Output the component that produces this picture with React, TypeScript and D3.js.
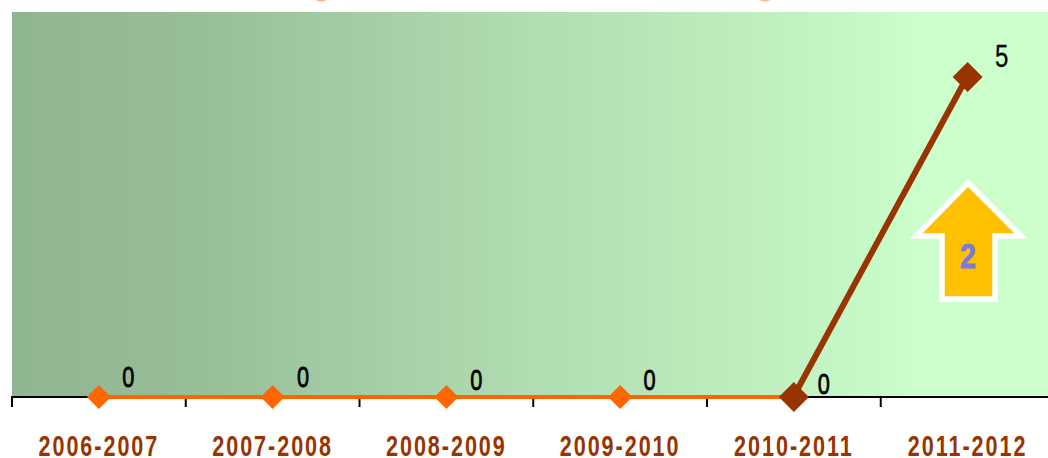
import React from "react";
import * as d3 from "d3";

const categories = ["2006-2007", "2007-2008", "2008-2009", "2009-2010", "2010-2011", "2011-2012"];
const values = [0, 0, 0, 0, 0, 5];
const labelOffsets = [[29.5, -9], [30.5, -9], [30, -6], [29.5, -6], [30, -2], [34, -9]];
const gradientStops = [
  [0, "#90B591"], [0.18, "#98BE98"], [0.35, "#A5CEA6"], [0.5, "#B1DDB1"],
  [0.65, "#BAE9BA"], [0.8, "#C5F6C5"], [0.88, "#CCFFCC"], [1, "#CCFFCC"],
] as const;

const W = 1048, H = 458;
const left = 12, right = 1048, top = 12, base = 396;
const x = d3.scaleBand<string>().domain(categories).range([left, 1054.5]);
const y = d3.scaleLinear().domain([0, 5]).range([base, 76]);
const px = (i: number) => (x(categories[i]) as number) + x.bandwidth() / 2;
const orange = "#FF6600", brown = "#993300";
const font = "'Liberation Sans', sans-serif";
const line = d3.line<number>().x((_, i) => px(i)).y((d) => y(d));
const diamond = (cx: number, cy: number, r: number) =>
  `M${cx},${cy - r}L${cx + r},${cy}L${cx},${cy + r}L${cx - r},${cy}Z`;
const arrowPts = [[968, 183], [916, 236], [942, 236], [942, 299], [995, 299], [995, 236], [1021, 236]];

export default function App() {
  return (
    <svg width={W} height={H} style={{ position: "absolute", left: 0, top: 0, background: "#fff" }}>
      <defs>
        <linearGradient id="bg" x1="0" x2="1" y1="0" y2="0">
          {gradientStops.map(([o, c]) => <stop key={o} offset={o} stopColor={c} />)}
        </linearGradient>
      </defs>
      <ellipse cx={321} cy={-1.5} rx={6} ry={3} fill="#FFB27F" />
      <ellipse cx={765} cy={-1.5} rx={6} ry={3} fill="#FFB27F" />
      <rect x={left} y={top} width={right - left} height={base - top} fill="url(#bg)" />
      <line x1={left} x2={right} y1={base + 1} y2={base + 1} stroke="#000" strokeWidth={2} />
      {categories.map((c) => (
        <line key={c} x1={x(c)} x2={x(c)} y1={base} y2={base + 11} stroke="#000" strokeWidth={2} />
      ))}
      <path d={line(values.slice(0, 5)) as string} transform="translate(0,1)" fill="none" stroke={orange} strokeWidth={4} />
      <line x1={px(4)} y1={y(values[4])} x2={px(5)} y2={y(values[5])} stroke={brown} strokeWidth={6} />
      {values.map((v, i) => (
        <path key={i} d={diamond(px(i), y(v) + 1, i < 4 ? 12 : 15)} fill={i < 4 ? orange : brown} />
      ))}
      {values.map((v, i) => (
        <text key={i} transform={`translate(${px(i) + labelOffsets[i][0]},${y(v) + labelOffsets[i][1]}) scale(0.75,1)`}
          textAnchor="middle" fontFamily={font} fontSize={i === 5 ? 32 : 29} fill="#000"
          stroke="#000" strokeWidth={i === 5 ? 0.3 : 0.8}>{v}</text>
      ))}
      {categories.map((c) => (
        <text key={c} transform={`translate(${(x(c) as number) + x.bandwidth() / 2},456) scale(0.72,1)`}
          textAnchor="middle" fontFamily={font} fontWeight="bold" fontSize={30} letterSpacing={2.7} fill={brown}>{c}</text>
      ))}
      <polygon points={arrowPts.map((p) => p.join(",")).join(" ")} fill="#FFC000" stroke="#fff" strokeWidth={5.5} />
      <text transform="translate(968,268) scale(0.8,1)" textAnchor="middle" fontFamily={font} fontWeight="bold"
        fontSize={36} fill="#7B7BD1" stroke="#7B7BD1" strokeWidth={0.8}>2</text>
    </svg>
  );
}
